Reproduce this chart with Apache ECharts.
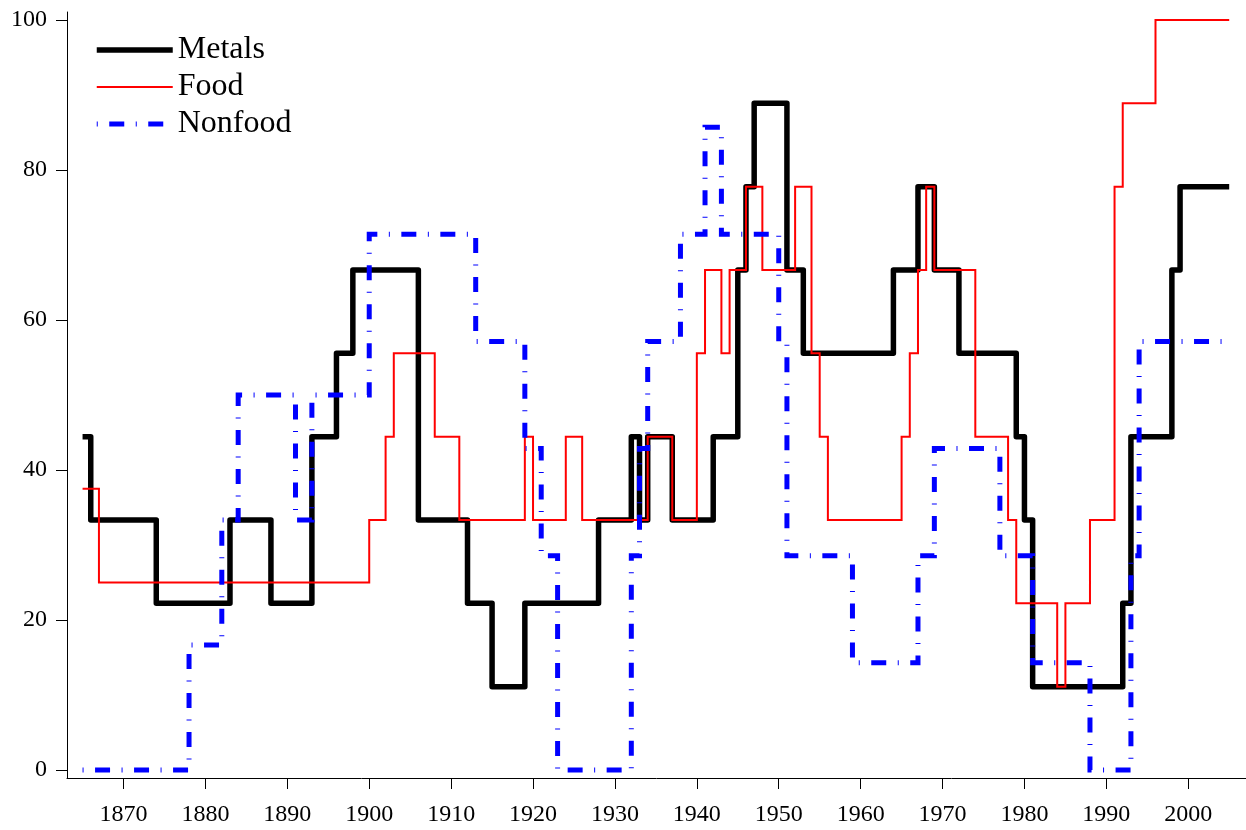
<!DOCTYPE html>
<html>
<head>
<meta charset="utf-8">
<script src="https://cdn.jsdelivr.net/npm/echarts@6/dist/echarts.min.js"></script>
<style>
  html, body { margin: 0; padding: 0; background: #ffffff; }
  #chart { width: 1246px; height: 830px; }
</style>
</head>
<body>
<div id="chart"></div>
<script>
// Tick labels
const xTicks = [1870, 1880, 1890, 1900, 1910, 1920, 1930, 1940, 1950, 1960, 1970, 1980, 1990, 2000];
const yTicks = [0, 20, 40, 60, 80, 100];

// Metals: years where the share changes, and the share from that year on
const metalsYears  = [1865, 1866, 1874, 1883, 1888, 1893, 1896, 1898, 1906, 1912, 1915, 1919, 1928, 1932, 1933, 1934, 1937, 1942, 1945, 1946, 1947, 1951, 1953, 1964, 1967, 1969, 1972, 1979, 1980, 1981, 1992, 1993, 1998, 1999, 2005];
const metalsShares = [44.44, 33.33, 22.22, 33.33, 22.22, 44.44, 55.56, 66.67, 33.33, 22.22, 11.11, 22.22, 33.33, 44.44, 33.33, 44.44, 33.33, 44.44, 66.67, 77.78, 88.89, 66.67, 55.56, 66.67, 77.78, 66.67, 55.56, 44.44, 33.33, 11.11, 22.22, 44.44, 66.67, 77.78, 77.78];

// Food
const foodYears  = [1865, 1867, 1900, 1902, 1903, 1908, 1911, 1919, 1920, 1924, 1926, 1934, 1937, 1940, 1941, 1943, 1944, 1946, 1948, 1952, 1954, 1955, 1956, 1965, 1966, 1967, 1968, 1969, 1974, 1978, 1979, 1984, 1985, 1988, 1991, 1992, 1996, 2005];
const foodShares = [37.5, 25.0, 33.33, 44.44, 55.56, 44.44, 33.33, 44.44, 33.33, 44.44, 33.33, 44.44, 33.33, 55.56, 66.67, 55.56, 66.67, 77.78, 66.67, 77.78, 55.56, 44.44, 33.33, 44.44, 55.56, 66.67, 77.78, 66.67, 44.44, 33.33, 22.22, 11.11, 22.22, 33.33, 77.78, 88.89, 100, 100];

// Nonfood
const nonfoodYears  = [1865, 1878, 1882, 1884, 1891, 1893, 1900, 1913, 1919, 1921, 1923, 1932, 1933, 1934, 1938, 1941, 1943, 1950, 1951, 1959, 1967, 1969, 1977, 1981, 1988, 1993, 1994, 2005];
const nonfoodShares = [0, 16.67, 33.33, 50.0, 33.33, 50.0, 71.43, 57.14, 42.86, 28.57, 0, 28.57, 42.86, 57.14, 71.43, 85.71, 71.43, 57.14, 28.57, 14.29, 28.57, 42.86, 28.57, 14.29, 0, 28.57, 57.14, 57.14];

const seriesNames = ['Metals', 'Food', 'Nonfood'];

const pairs = (xs, ys) => xs.map((x, i) => [x, ys[i]]);

const SERIF = '"Liberation Serif", "Times New Roman", serif';

const styles = {
  Metals:  { color: '#000000', width: 5.5, type: 'solid', join: 'round', cap: 'butt' },
  Food:    { color: '#ff0000', width: 2,   type: 'solid', join: 'miter', cap: 'butt' },
  Nonfood: { color: '#0000ff', width: 5,   type: [1, 11.5, 15, 11.5], join: 'miter', cap: 'butt' }
};

const chart = echarts.init(document.getElementById('chart'), null, { renderer: 'canvas' });

chart.setOption({
  animation: false,
  backgroundColor: '#ffffff',
  grid: { left: 67, right: 0, top: 12, bottom: 52, containLabel: false },
  legend: {
    orient: 'vertical',
    left: 94,
    top: 34,
    padding: 0,
    itemWidth: 76,
    itemHeight: 14,
    itemGap: 5,
    selectedMode: false,
    textStyle: { color: '#000000', fontFamily: SERIF, fontSize: 32, lineHeight: 32 },
    data: seriesNames.map(n => ({
      name: n,
      lineStyle: { color: styles[n].color, width: styles[n].width, type: styles[n].type, cap: 'butt' },
      itemStyle: { opacity: 0 }
    }))
  },
  xAxis: {
    type: 'value',
    min: 1863.1,
    max: 2007.05,
    splitLine: { show: false },
    axisLine: { show: true, onZero: false, lineStyle: { color: '#000000', width: 1 } },
    axisTick: { show: true, inside: false, length: 11, customValues: xTicks, lineStyle: { color: '#000000', width: 1 } },
    axisLabel: {
      customValues: xTicks,
      formatter: v => String(v),
      margin: 25,
      color: '#000000',
      fontFamily: SERIF,
      fontSize: 24
    }
  },
  yAxis: {
    type: 'value',
    min: -1.07,
    max: 101.07,
    splitLine: { show: false },
    axisLine: { show: true, onZero: false, lineStyle: { color: '#000000', width: 1 } },
    axisTick: { show: true, inside: false, length: 11, customValues: yTicks, lineStyle: { color: '#000000', width: 1 } },
    axisLabel: {
      customValues: yTicks,
      formatter: v => String(v),
      margin: 20,
      color: '#000000',
      fontFamily: SERIF,
      fontSize: 24
    }
  },
  series: [
    { name: 'Metals',  data: pairs(metalsYears, metalsShares) },
    { name: 'Food',    data: pairs(foodYears, foodShares) },
    { name: 'Nonfood', data: pairs(nonfoodYears, nonfoodShares) }
  ].map(s => ({
    name: s.name,
    type: 'line',
    step: 'end',
    data: s.data,
    symbol: 'none',
    showSymbol: false,
    silent: true,
    lineStyle: {
      color: styles[s.name].color,
      width: styles[s.name].width,
      type: styles[s.name].type,
      join: styles[s.name].join,
      cap: styles[s.name].cap
    },
    itemStyle: { color: styles[s.name].color }
  }))
});
</script>
</body>
</html>
